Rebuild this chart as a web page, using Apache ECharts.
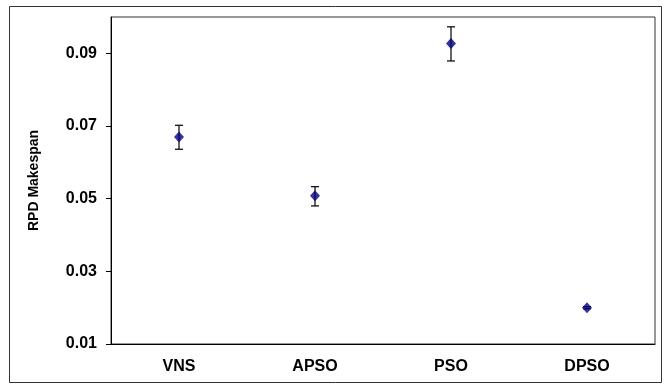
<!DOCTYPE html>
<html><head><meta charset="utf-8">
<script src="https://cdn.jsdelivr.net/npm/echarts@6/dist/echarts.min.js"></script>
<style>html,body{margin:0;padding:0;background:#fff}#c{width:666px;height:385px}</style>
</head><body><div id="c"></div>
<script>
var categories = ['VNS', 'APSO', 'PSO', 'DPSO'];
var means = [0.0670, 0.0508, 0.0927, 0.0200];
var lower = [0.0636, 0.0480, 0.0879, 0.0197];
var upper = [0.0702, 0.0533, 0.0973, 0.0203];
var yTicks = [0.01, 0.03, 0.05, 0.07, 0.09];

var chart = echarts.init(document.getElementById('c'), null, {renderer: 'canvas'});
var errData = categories.map(function (c, i) { return [i, lower[i], upper[i]]; });
var font = 'Arial, "Liberation Sans", sans-serif';
chart.setOption({
  animation: false,
  backgroundColor: '#fff',
  graphic: [{
    type: 'rect', shape: {x: 9.5, y: 6.5, width: 652, height: 376},
    style: {fill: 'none', stroke: '#333', lineWidth: 1}, silent: true, z: -1
  }],
  grid: {left: 111, top: 17, right: 11, bottom: 41, show: true, borderColor: '#333', borderWidth: 1},
  xAxis: {
    type: 'category', data: categories, boundaryGap: true,
    axisLine: {lineStyle: {color: '#000', width: 1}},
    axisTick: {show: false},
    axisLabel: {color: '#000', fontFamily: font, fontWeight: 'bold', fontSize: 16, margin: 15},
    splitLine: {show: false}
  },
  yAxis: {
    type: 'value', min: 0.01, max: 0.1,
    name: 'RPD Makespan', nameLocation: 'middle', nameGap: 70,
    nameTextStyle: {color: '#000', fontFamily: font, fontWeight: 'bold', fontSize: 14},
    axisLine: {show: true, lineStyle: {color: '#000', width: 1}},
    axisTick: {show: true, length: 5, customValues: yTicks, lineStyle: {color: '#000'}},
    axisLabel: {color: '#000', fontFamily: font, fontWeight: 'bold', fontSize: 16, margin: 14,
      customValues: yTicks, formatter: function (v) { return v.toFixed(2); }},
    splitLine: {show: false}
  },
  series: [{
    type: 'custom',
    data: errData,
    z: 2,
    renderItem: function (params, api) {
      var x = api.value(0);
      var lo = api.coord([x, api.value(1)]);
      var hi = api.coord([x, api.value(2)]);
      var hw = 4;
      var style = {stroke: '#000', lineWidth: 1.2, fill: 'none'};
      return {type: 'group', children: [
        {type: 'line', shape: {x1: lo[0], y1: lo[1], x2: hi[0], y2: hi[1]}, style: style},
        {type: 'line', shape: {x1: lo[0] - hw, y1: lo[1], x2: lo[0] + hw, y2: lo[1]}, style: style},
        {type: 'line', shape: {x1: hi[0] - hw, y1: hi[1], x2: hi[0] + hw, y2: hi[1]}, style: style}
      ]};
    }
  }, {
    type: 'scatter',
    data: means,
    symbol: 'diamond',
    symbolSize: [10, 11],
    itemStyle: {color: '#000080'},
    z: 3
  }]
});
</script></body></html>
